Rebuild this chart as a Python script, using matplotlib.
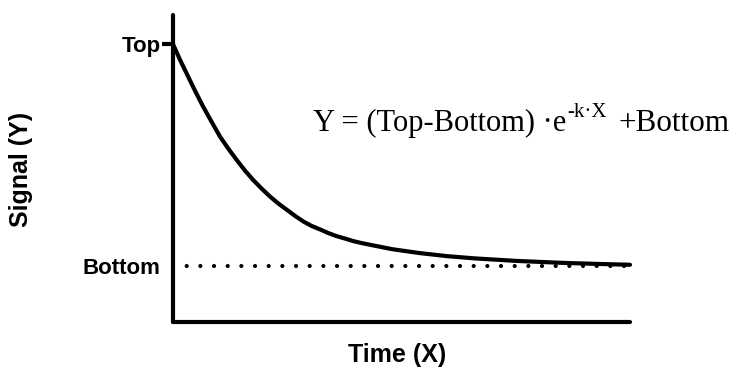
import matplotlib.pyplot as plt

# values (arbitrary units)
time_x = [0, 0.15, 0.3, 0.48, 0.66, 0.85, 1.03, 1.21, 1.39, 1.57, 1.75,
          1.94, 2.12, 2.3, 2.49, 2.67, 2.85, 3.03, 3.22, 3.4, 3.58, 3.77,
          3.95, 4.13, 4.31, 4.8, 5.4, 6.0, 6.6, 7.5, 8.5, 9.3, 10]
signal_y = [100, 94.5, 89.4, 83.3, 77.5, 71.9, 66.7, 62.4, 58.4, 54.6, 51.2,
            48.0, 45.2, 42.7, 40.4, 38.2, 36.2, 34.6, 33.3, 32.0, 30.9, 30.0,
            29.1, 28.4, 27.8, 26.2, 24.8, 23.7, 22.9, 22.0, 21.3, 20.9, 20.6]
top_val = 100
bottom_val = 20
tick_labels = ["Top", "Bottom"]

W, H = 734, 368

def fx(px):
    return px / W

def fy(py):
    return 1 - py / H

fig = plt.figure(figsize=(W / 100, H / 100), dpi=100)
ax = fig.add_axes([fx(173), fy(322), (630 - 173) / W, (322 - 15) / H])

# curve and the dotted baseline
ax.plot(time_x, signal_y, color="black", lw=3, clip_on=False,
        solid_capstyle="round", solid_joinstyle="round", zorder=3)
ax.plot([time_x[0], time_x[-1]], [bottom_val, bottom_val], color="black",
        lw=3, dashes=(0.01, 3.27), dash_capstyle="round", clip_on=False)

ax.set_xlim(0, 10)
ax.set_ylim(0, 110.5)

for side in ["top", "right"]:
    ax.spines[side].set_visible(False)
for side in ["left", "bottom"]:
    ax.spines[side].set_linewidth(3)
    ax.spines[side].set_capstyle("round")

ax.set_xticks([])
ax.set_yticks([top_val, bottom_val])
ax.set_yticklabels(tick_labels, fontsize=16, fontweight="bold",
                   family="Liberation Sans")
ax.tick_params(axis="y", length=8, width=3, pad=1)
ax.yaxis.get_major_ticks()[1].tick1line.set_visible(False)

# axis titles
fig.text(fx(21), fy(169), "Signal (Y)", rotation=90, ha="center", va="center",
         fontsize=18, fontweight="bold", family="Liberation Sans")
fig.text(fx(397), fy(362), "Time (X)", ha="center", va="baseline",
         fontsize=18, fontweight="bold", family="Liberation Sans")

# equation
fig.text(fx(313), fy(131), "Y = (Top-Bottom) \u00b7e", va="baseline",
         fontsize=22, family="Liberation Serif")
fig.text(fx(567), fy(117), "-k\u00b7X", va="baseline",
         fontsize=15, family="Liberation Serif")
fig.text(fx(618), fy(131), "+Bottom", va="baseline",
         fontsize=22.5, family="Liberation Serif")

fig.savefig("out.png", dpi=100)
